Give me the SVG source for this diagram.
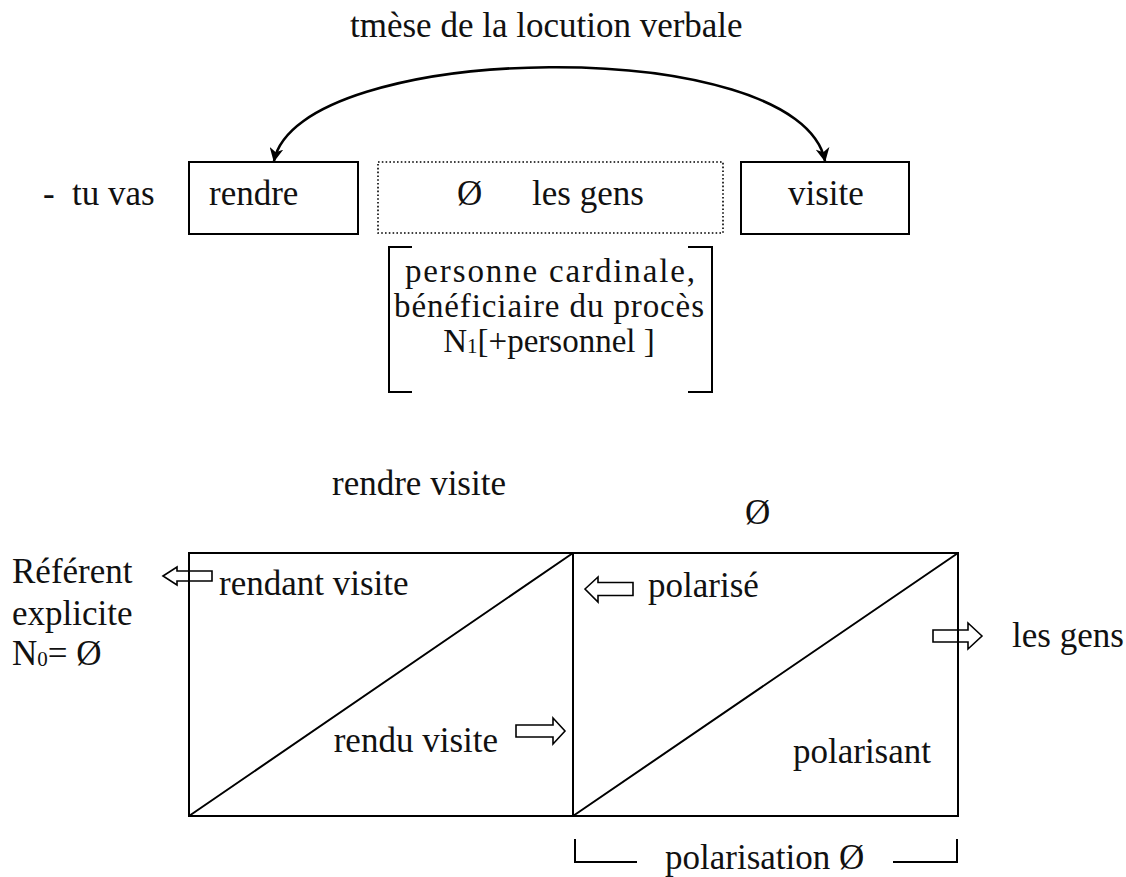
<svg xmlns="http://www.w3.org/2000/svg" width="1126" height="877" viewBox="0 0 1126 877">
<style>
text{font-family:"Liberation Serif","DejaVu Serif",serif;font-size:35px;fill:#111}
.br{font-size:33px}
.box{fill:#fff;stroke:#000;stroke-width:2}
.dot{fill:none;stroke:#000;stroke-width:1.6;stroke-dasharray:1.6 2.2}
.ln{fill:none;stroke:#000;stroke-width:2}
.arc{fill:none;stroke:#000;stroke-width:2.6}
.ha{fill:none;stroke:#000;stroke-width:1.6;stroke-linejoin:miter}
.sub{font-size:21px}
</style>
<defs>
<marker id="ah" viewBox="0 0 14 14" refX="13" refY="7" markerWidth="14" markerHeight="14" markerUnits="userSpaceOnUse" orient="auto-start-reverse">
<path d="M0,0 L14,7 L0,14 L4,7 Z" fill="#000"/>
</marker>
</defs>
<text id="title" x="350" y="37">tmèse de la locution verbale</text>
<g id="connectors">
<path class="arc" d="M274,161 C298,40 800,32 825,161" marker-start="url(#ah)" marker-end="url(#ah)"/>
</g>
<g id="prefix"><text x="43" y="205">-</text><text x="72" y="205">tu vas</text></g>
<g id="n-rendre"><rect class="box" x="189" y="162" width="169" height="72"/><text x="209" y="205">rendre</text></g>
<g id="n-gens"><rect class="dot" x="378" y="162" width="345" height="71"/><text x="457" y="205">Ø</text><text x="532" y="205">les gens</text></g>
<g id="n-visite"><rect class="box" x="741" y="162" width="168" height="72"/><text x="788" y="205">visite</text></g>
<g id="n-features">
<path class="ln" d="M412,247 H389 V392 H412 M688,247 H712 V392 H688"/>
<text class="br" x="405" y="282" textLength="290" lengthAdjust="spacing">personne cardinale,</text>
<text class="br" x="394" y="317" textLength="310" lengthAdjust="spacing">bénéficiaire du procès</text>
<text class="br" x="549" y="352" text-anchor="middle">N<tspan class="sub" dy="1">1</tspan><tspan dy="-1">[+personnel ]</tspan></text>
</g>
<text x="332" y="495">rendre visite</text>
<text x="745" y="524">Ø</text>
<g id="ref"><text x="12" y="583">Référent</text><text x="12" y="625">explicite</text><text x="12" y="665">N<tspan class="sub" dy="1">0</tspan><tspan dy="-1">= Ø</tspan></text></g>
<g id="arrows">
<path class="ha" d="M163,576 L177,567 L177,571 L212,571 L212,581 L177,581 L177,585 Z"/>
<path class="ha" d="M585,589 L598,577 L598,582.5 L633,582.5 L633,595.5 L598,595.5 L598,602 Z"/>
<path class="ha" d="M565,731 L553,718 L553,725 L516,725 L516,737 L553,737 L553,744 Z"/>
<path class="ha" d="M982,636 L968,623 L968,630 L933,630 L933,642 L968,642 L968,649 Z"/>
</g>
<g id="grid">
<rect class="ln" x="189" y="553" width="769" height="263"/>
<path class="ln" d="M573,553 V816 M189,816 L573,553 M573,816 L958,553"/>
</g>
<text x="219" y="595">rendant visite</text>
<text x="648" y="597">polarisé</text>
<text x="498" y="752" text-anchor="end">rendu visite</text>
<text x="931" y="763" text-anchor="end">polarisant</text>
<text x="1012" y="647">les gens</text>
<g id="pol">
<path class="ln" d="M575,839 V862 H637 M893,862 H957 V839"/>
<text x="665" y="869">polarisation Ø</text>
</g>
</svg>
